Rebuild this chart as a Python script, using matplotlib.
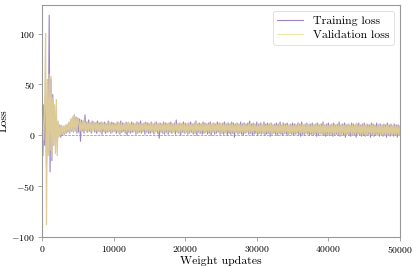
import numpy as np
import matplotlib
matplotlib.use("Agg")
import matplotlib.pyplot as plt

plt.rcParams["font.family"] = "serif"
plt.rcParams["font.serif"] = ["cmr10", "DejaVu Serif"]
plt.rcParams["mathtext.fontset"] = "cm"
plt.rcParams["axes.formatter.use_mathtext"] = True
plt.rcParams["axes.unicode_minus"] = True

# one logged value every 125 weight updates
step = 125

train_loss = [
    75, -20, 30, -10, 45, -30, 20, -15, 118, -36, 55, -25, 40, -10, 25, -5, 20, -8, 12, 0,
    10, -2, 9, 0, 8, 1, 9, 2, 10, 3, 12, 2, 15, 4, 17, 3, 20, 4, 18, 2, 17,
    3, 16, -6, 15, 4, 14, 2, 20, 5, 13, 3, 15, 4, 12, 2, 14, 5, 13, 3, 12,
    2, 14, 4, 12, 3, 13, 1, 12, 4, 13, 2, 11, 3, 14, 4, 12, 2, 13, 3, 12,
    4, 11, 2, 13, 3, 12, 1, 14, 3, 12, 4, 11, 2, 13, 0, 12, 3, 11, 2, 13,
    3, 12, 4, 11, 1, 13, 2, 12, 3, 14, 2, 11, 4, 12, 1, 13, 3, 12, 2, 11,
    2, 13, 3, 11, 1, 12, 4, 13, 2, 11, -3, 12, 3, 11, 2, 13, 1, 12, 3, 11,
    1, 12, 3, 13, 2, 11, 4, 12, 1, 15, 3, 11, 2, 12, 0, 11, 3, 13, 2, 12,
    3, 11, 1, 12, 2, 13, 3, 11, 1, 12, 2, 14, 0, 11, 3, 12, 2, 11, 1, 13,
    2, 12, 3, 11, 1, 12, 2, 13, 0, 11, 3, 12, 1, 11, 2, 13, 3, 12, 1, 11,
    2, 12, 1, 13, 3, 11, 0, 12, 2, 11, 1, 13, 2, 12, -2, 11, 3, 12, 1, 11,
    2, 13, 1, 11, 0, 12, 2, 11, 3, 12, 1, 14, 2, 11, 0, 12, 1, 11, 2, 13,
    0, 11, 2, 12, 1, 10, 2, 13, 0, 11, 1, 12, 2, 11, -1, 12, 1, 10, 2, 11,
    1, 12, 0, 11, 2, 13, 1, 10, 0, 12, 2, 11, 1, 12, 0, 10, 2, 11, 1, 12,
    0, 11, 1, 10, 2, 12, 0, 11, -1, 13, 1, 10, 0, 11, 2, 12, 1, 10, 0, 11,
    1, 12, 0, 10, 1, 11, -1, 12, 0, 10, 2, 11, 1, 13, 0, 10, -1, 11, 1, 12,
    0, 10, 1, 11, -1, 12, 0, 10, 1, 11, 0, 13, -1, 10, 1, 11, 0, 12, -2, 10,
    1, 11, 0, 10, -1, 12, 1, 11, 0, 10, -2, 11, 1, 12, 0, 10, -1, 11, 0, 12,
    -1, 10, 0, 11, 1, 10, -2, 12, 0, 11, -1, 10, 0, 12, 1, 10, -1, 11, 0, 10,
    -1, 11, 0, 10, -2, 12, 0, 10, -1, 11, 0, 9, -1, 11, 0, 10, -2, 10, 0, 9,
]

val_loss = [
    40, 10, -5, 30, 100, -88, 55, -20, 60, -15, 58, -22, 37, -10, 30, -18, 35, -20, 14, -2,
    9, 0, 10, 1, 9, 2, 10, 3, 11, 4, 13, 3, 16, 5, 18, 4, 19, 5, 17, 4, 16,
    15, 4, 13, 3, 14, 5, 15, 4, 13, 3, 12, 5, 14, 4, 12, 3, 13, 5, 12, 4,
    13, 3, 12, 4, 11, 3, 13, 5, 12, 3, 12, 4, 11, 3, 13, 4, 12, 3, 11, 4,
    12, 3, 11, 4, 13, 2, 12, 4, 11, 3, 12, 5, 11, 3, 12, 4, 13, 3, 11, 4,
    12, 3, 11, 4, 12, 2, 13, 3, 11, 4, 12, 3, 11, 5, 12, 3, 11, 4, 12, 3,
    11, 4, 12, 3, 11, 2, 13, 4, 11, 3, 12, 4, 11, 3, 12, 2, 11, 4, 12, 3,
    12, 3, 11, 4, 12, 2, 11, 3, 13, 4, 11, 3, 12, 2, 11, 4, 12, 3, 11, 2,
    11, 3, 12, 2, 11, 4, 12, 3, 11, 2, 13, 3, 11, 4, 12, 2, 11, 3, 12, 4,
    11, 2, 12, 3, 11, 4, 12, 2, 11, 3, 12, 3, 11, 2, 12, 4, 11, 3, 12, 2,
    11, 3, 12, 2, 11, 3, 12, 4, 10, 3, 12, 2, 11, 3, 10, 2, 12, 3, 11, 2,
    11, 3, 10, 2, 12, 3, 11, 2, 10, 3, 12, 2, 11, 3, 10, 2, 11, 4, 10, 2,
    11, 2, 10, 3, 12, 2, 11, 1, 10, 3, 11, 2, 10, 3, 12, 1, 11, 2, 10, 3,
    11, 2, 10, 1, 11, 3, 10, 2, 12, 1, 10, 2, 11, 3, 10, 1, 11, 2, 10, 2,
    10, 2, 11, 1, 10, 3, 11, 2, 10, 1, 12, 2, 10, 1, 11, 2, 10, 3, 11, 1,
    10, 2, 11, 1, 10, 2, 12, 1, 10, 2, 11, 0, 10, 2, 11, 1, 10, 2, 11, 1,
    10, 1, 11, 2, 10, 0, 11, 1, 10, 2, 11, 1, 10, 0, 11, 2, 10, 1, 11, 0,
    10, 1, 11, 2, 10, 1, 11, 0, 10, 1, 12, 2, 10, 1, 11, 0, 10, 1, 11, 1,
    10, 0, 11, 1, 9, 2, 10, 1, 11, 0, 10, 1, 9, 2, 10, 0, 11, 1, 10, 0,
    10, 1, 9, 0, 11, 1, 10, 0, 9, 1, 10, 0, 11, 1, 9, 0, 10, 1, 9, 1,
]

updates = np.arange(len(train_loss)) * step

fig, ax = plt.subplots(figsize=(4.16, 2.68), dpi=100)
fig.subplots_adjust(left=0.101, right=0.9615, top=0.981, bottom=0.116)

ax.axhline(0, color="#8c8c8c", lw=0.5, ls="--", zorder=1)
ax.plot(updates, train_loss, color="#9a84c4", lw=0.8, label="Training loss")
ax.plot(updates, val_loss, color="#dccb98", lw=0.9, label="Validation loss")

ax.set_xlim(0, 50000)
ax.set_ylim(-100, 128)
ax.set_yticks([-100, -50, 0, 50, 100])
ax.set_xticks([0, 10000, 20000, 30000, 40000, 50000])
ax.set_xlabel("Weight updates", fontsize=8.5, labelpad=1)
ax.set_ylabel("Loss", fontsize=8.5, labelpad=2)
ax.tick_params(labelsize=7, color="#999999", length=3, width=0.6, pad=2)
for s in ax.spines.values():
    s.set_color("#999999")
    s.set_linewidth(0.8)

leg = ax.legend(loc="upper right", fontsize=8.5, framealpha=1, edgecolor="#dddddd",
                handlelength=2.2, borderpad=0.4, labelspacing=0.3)
leg.get_frame().set_linewidth(0.6)
for line, c in zip(leg.get_lines(), ["#9a84c4", "#eee6a6"]):
    line.set_linewidth(0.8)
    line.set_color(c)

fig.savefig("out.png", dpi=100)
